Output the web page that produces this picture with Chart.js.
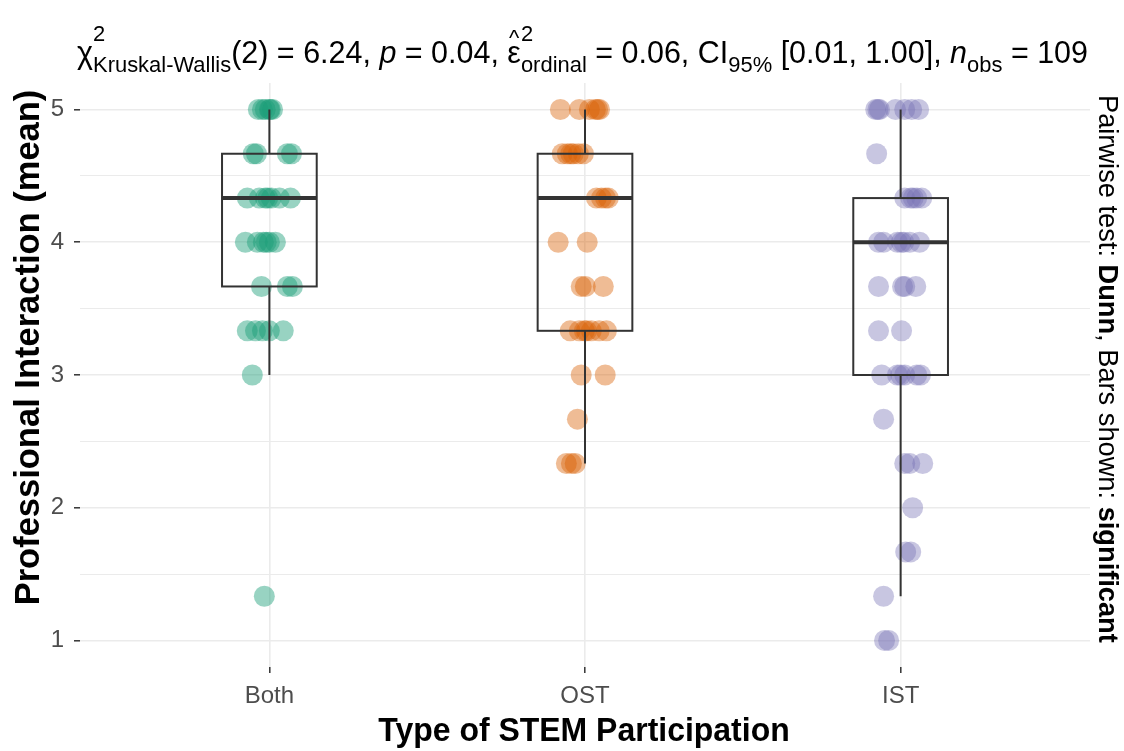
<!DOCTYPE html>
<html><head><meta charset="utf-8">
<script src="https://cdn.jsdelivr.net/npm/chart.js@4.4.1/dist/chart.umd.min.js"></script>
<style>html,body{margin:0;padding:0;background:#fff}#wrap{width:1124px;height:751px;position:relative}</style>
</head><body><div id="wrap"><canvas id="c"></canvas></div>
<script>
// ---- data ----
const categories = ['Both', 'OST', 'IST'];
const yTickValues = [1, 1.5, 2, 2.5, 3, 3.5, 4, 4.5, 5];
const yTickLabels = ['1', '', '2', '', '3', '', '4', '', '5'];

const bothValues = [5,5,5,5,5,5, 4.667,4.667,4.667,4.667, 4.333,4.333,4.333,4.333,4.333,4.333,4.333,
  4,4,4,4,4,4, 3.667,3.667,3.667, 3.333,3.333,3.333,3.333,3.333, 3, 1.333];
const bothJitter = [-0.035,-0.022,-0.013,0.003,0,0.010, -0.051,-0.041,0.057,0.070, -0.070,-0.032,-0.013,-0.005,0.006,0.032,0.067,
  -0.076,-0.038,-0.019,-0.010,0,0.019, -0.025,0.057,0.073, -0.070,-0.044,-0.022,0,0.044, -0.054, -0.016];

const ostValues = [5,5,5,5,5,5, 4.667,4.667,4.667,4.667,4.667,4.667, 4.333,4.333,4.333,4.333, 4,4,
  3.667,3.667,3.667, 3.333,3.333,3.333,3.333,3.333,3.333,3.333, 3,3, 2.667, 2.333,2.333,2.333];
const ostJitter = [-0.078,-0.018,0.014,0.033,0.040,0.046, -0.072,-0.056,-0.045,-0.037,-0.021,-0.005, 0.036,0.052,0.065,0.074, -0.085,0.007,
  -0.012,0.001,0.058, -0.047,-0.018,-0.002,0.005,0.020,0.045,0.068, -0.012,0.064, -0.024, -0.059,-0.043,-0.031];

const istValues = [5,5,5,5,5,5,5, 4.667, 4.333,4.333,4.333,4.333,4.333, 4,4,4,4,4,4,4,
  3.667,3.667,3.667,3.667, 3.333,3.333, 3,3,3,3,3,3, 2.667, 2.333,2.333,2.333, 2, 1.667,1.667, 1.333, 1,1];
const istJitter = [-0.079,-0.072,-0.067,-0.016,0.013,0.035,0.057, -0.076, 0.013,0.032,0.040,0.051,0.067, -0.070,-0.054,-0.010,0.002,0.010,0.029,0.060,
  -0.070,0.006,0.013,0.048, -0.070,0.003, -0.060,-0.010,0.000,0.013,0.051,0.063, -0.054, 0.013,0.029,0.070, 0.038, 0.016,0.032, -0.054, -0.051,-0.038];

const boxLow    = [3,     2.333, 1.333];
const boxQ1     = [3.667, 3.333, 3];
const boxMedian = [4.333, 4.333, 4];
const boxQ3     = [4.667, 4.667, 4.333];
const boxHigh   = [5,     5,     5];

// ---- styles ----
const pointColors = ['rgba(27,158,119,0.45)', 'rgba(217,95,2,0.42)', 'rgba(117,112,179,0.40)'];
const FONT = '"Liberation Sans", Arial, Helvetica, sans-serif';
const BOX_HALF = 0.15;

const groups = [
  {values: bothValues, jitter: bothJitter},
  {values: ostValues, jitter: ostJitter},
  {values: istValues, jitter: istJitter}
];

const boxPlugin = {
  id: 'boxes',
  afterDatasetsDraw(chart) {
    const ctx = chart.ctx, xs = chart.scales.x, ys = chart.scales.y;
    ctx.save();
    ctx.strokeStyle = '#333333';
    categories.forEach((c, i) => {
      const cx = xs.getPixelForValue(i + 1);
      const xl = xs.getPixelForValue(i + 1 - BOX_HALF);
      const xr = xs.getPixelForValue(i + 1 + BOX_HALF);
      const yq1 = ys.getPixelForValue(boxQ1[i]);
      const yq3 = ys.getPixelForValue(boxQ3[i]);
      const ymed = ys.getPixelForValue(boxMedian[i]);
      const ylo = ys.getPixelForValue(boxLow[i]);
      const yhi = ys.getPixelForValue(boxHigh[i]);
      ctx.lineWidth = 2;
      ctx.beginPath();
      ctx.moveTo(cx, yq3); ctx.lineTo(cx, yhi);
      ctx.moveTo(cx, yq1); ctx.lineTo(cx, ylo);
      ctx.stroke();
      ctx.strokeRect(xl, yq3, xr - xl, yq1 - yq3);
      ctx.lineWidth = 4;
      ctx.beginPath();
      ctx.moveTo(xl, ymed); ctx.lineTo(xr, ymed);
      ctx.stroke();
    });
    ctx.restore();
  }
};

function drawRuns(ctx, runs, x, y) {
  runs.forEach(r => {
    ctx.font = r.font;
    ctx.fillText(r.t, x, y);
    x += ctx.measureText(r.t).width;
  });
}

const textPlugin = {
  id: 'texts',
  afterDraw(chart) {
    const ctx = chart.ctx;
    ctx.save();
    ctx.fillStyle = '#000';
    ctx.textBaseline = 'alphabetic';
    ctx.textAlign = 'left';

    // ---- title with sub/superscripts ----
    const segs = [
      {t: 'χ'},
      {sup: '2', sub: 'Kruskal-Wallis'},
      {t: '(2) = 6.24, '},
      {t: 'p', it: true},
      {t: ' = 0.04, '},
      {t: 'ε', hat: true},
      {sup: '2', sub: 'ordinal'},
      {t: ' = 0.06, CI'},
      {sub: '95%'},
      {t: ' [0.01, 1.00], '},
      {t: 'n', it: true},
      {sub: 'obs'},
      {t: ' = 109'}
    ];
    const titleLeft = 77, titleRight = 1088, baseY = 63;
    const M = 30.5;
    const subR = 0.72;
    const mainF = (m, it) => (it ? 'italic ' : '') + m + 'px ' + FONT;
    const subF = m => (m * subR) + 'px ' + FONT;
    function segWidth(s, m) {
      if (s.t !== undefined) { ctx.font = mainF(m, s.it); return ctx.measureText(s.t).width; }
      let w = 0;
      if (s.sup) { ctx.font = subF(m); w = Math.max(w, ctx.measureText(s.sup).width); }
      if (s.sub) { ctx.font = subF(m); w = Math.max(w, ctx.measureText(s.sub).width); }
      return w;
    }
    const total = segs.reduce((a, s) => a + segWidth(s, M), 0);
    const sx = (titleRight - titleLeft) / total;
    ctx.save();
    ctx.translate(titleLeft, 0);
    ctx.scale(sx, 1);
    let x = 0;
    segs.forEach(s => {
      const w = segWidth(s, M);
      if (s.t !== undefined) {
        ctx.font = mainF(M, s.it);
        ctx.fillText(s.t, x, baseY);
        if (s.hat) {
          ctx.font = subF(M);
          ctx.textAlign = 'center';
          ctx.fillText('^', x + w / 2, baseY - 0.6 * M);
          ctx.textAlign = 'left';
        }
      } else {
        ctx.font = subF(M);
        if (s.sup) ctx.fillText(s.sup, x, baseY - 0.72 * M);
        if (s.sub) ctx.fillText(s.sub, x, baseY + 0.3 * M);
      }
      x += w;
    });
    ctx.restore();

    // ---- y axis title ----
    ctx.save();
    ctx.translate(39, 347.5);
    ctx.rotate(-Math.PI / 2);
    ctx.textAlign = 'center';
    ctx.font = 'bold 34.5px ' + FONT;
    ctx.fillText('Professional Interaction (mean)', 0, 0);
    ctx.restore();

    // ---- x axis title ----
    ctx.save();
    ctx.translate(584, 741);
    ctx.scale(0.94, 1);
    ctx.textAlign = 'center';
    ctx.font = 'bold 34px ' + FONT;
    ctx.fillText('Type of STEM Participation', 0, 0);
    ctx.restore();

    // ---- right side caption ----
    const capRuns = [
      {t: 'Pairwise test: ', b: false},
      {t: 'Dunn', b: true},
      {t: ', Bars shown: ', b: false},
      {t: 'significant', b: true}
    ];
    let F = 26;
    const capW = f => capRuns.reduce((a, r) => { ctx.font = (r.b ? 'bold ' : '') + f + 'px ' + FONT; return a + ctx.measureText(r.t).width; }, 0);
    F = F * 548 / capW(F);
    ctx.save();
    ctx.translate(1099, 95);
    ctx.rotate(Math.PI / 2);
    drawRuns(ctx, capRuns.map(r => ({t: r.t, font: (r.b ? 'bold ' : '') + F + 'px ' + FONT})), 0, 0);
    ctx.restore();

    ctx.restore();
  }
};

new Chart(document.getElementById('c'), {
  type: 'scatter',
  data: {
    datasets: groups.map((g, i) => ({
      label: categories[i],
      data: g.values.map((v, k) => ({x: i + 1 + g.jitter[k], y: v})),
      backgroundColor: pointColors[i],
      borderWidth: 0,
      pointRadius: 10.5,
      pointHoverRadius: 10.5
    }))
  },
  options: {
    responsive: true,
    maintainAspectRatio: false,
    animation: false,
    events: [],
    layout: {padding: {top: 83, right: 34, left: 0, bottom: 0}},
    plugins: {legend: {display: false}, tooltip: {enabled: false}, title: {display: false}},
    scales: {
      x: {
        type: 'linear', min: 0.4, max: 3.6,
        afterBuildTicks: a => { a.ticks = categories.map((c, i) => ({value: i + 1})); },
        afterFit: s => { s.height = 84; },
        ticks: {
          callback: (v, i) => categories[i],
          font: {family: FONT, size: 24}, color: '#4D4D4D', padding: 9,
          autoSkip: false, maxRotation: 0, minRotation: 0
        },
        grid: {color: '#EBEBEB', lineWidth: 1.6, tickLength: 6, tickColor: '#333333', tickWidth: 1.5},
        border: {display: false}
      },
      y: {
        type: 'linear', min: 0.8, max: 5.2,
        afterBuildTicks: a => { a.ticks = yTickValues.map(v => ({value: v})); },
        afterFit: s => { s.width = 80; },
        ticks: {
          callback: (v, i) => yTickLabels[i],
          font: {family: FONT, size: 24}, color: '#4D4D4D', padding: 10, autoSkip: false
        },
        grid: {
          color: '#EBEBEB',
          lineWidth: c => Number.isInteger(c.tick && c.tick.value) ? 1.6 : 1.1,
          tickLength: 6,
          tickColor: c => Number.isInteger(c.tick && c.tick.value) ? '#333333' : 'rgba(0,0,0,0)',
          tickWidth: 1.5
        },
        border: {display: false}
      }
    }
  },
  plugins: [boxPlugin, textPlugin]
});
</script>
</body></html>
